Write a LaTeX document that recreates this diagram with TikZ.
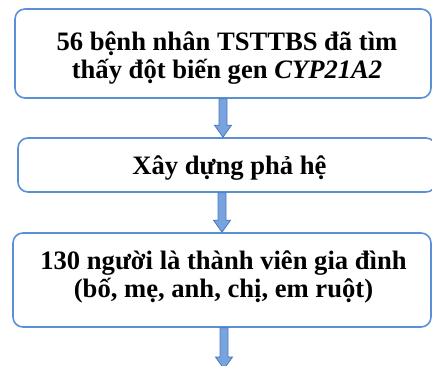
\documentclass[tikz,border=0pt]{standalone}
\usepackage{fontspec}
\setmainfont{Liberation Serif}
\usetikzlibrary{calc}

\definecolor{boxblue}{RGB}{91,143,214}
\definecolor{arrfill}{RGB}{120,163,222}
\definecolor{arredge}{RGB}{72,122,190}

\tikzset{
  stepbox/.style={draw=boxblue, line width=1.6pt, rounded corners=10pt, inner sep=0pt},
  steptext/.style={align=center, inner sep=0pt, font=\fontsize{26.6}{28}\selectfont\bfseries},
  blockarr/.style={fill=arrfill, draw=arredge, line width=0.8pt, line join=miter}
}

% block arrow: x from the first point, tip at the second
\newcommand{\flowarrow}[2]{%
  \draw[blockarr] let \p1=(#1), \p2=(#2) in
    (\x1-4pt,\y1) -- (\x1-4pt,\y2+12pt) -- (\x1-8.5pt,\y2+12pt) -- (\x1,\y2)
    -- (\x1+8.5pt,\y2+12pt) -- (\x1+4pt,\y2+12pt) -- (\x1+4pt,\y1) -- cycle;}

\begin{document}
\begin{tikzpicture}
    \useasboundingbox (0,0) rectangle (432pt,-366pt);

    \node[stepbox, minimum width=416pt, minimum height=89pt] (patients) at (223pt,-53.5pt) {};
    \node[stepbox, minimum width=418pt, minimum height=54pt] (pedigree) at (227pt,-165pt) {};
    \node[stepbox, minimum width=418pt, minimum height=94pt] (family) at (222pt,-280pt) {};
    \coordinate (next) at (224pt,-369pt);

    \node[steptext] (patientstext) at ([xshift=4pt, yshift=-4.5pt]patients.center)
      {56 bệnh nhân TSTTBS đã tìm\\thấy đột biến gen \textit{CYP21A2}};
    \node[steptext] (pedigreetext) at ([xshift=2.5pt, yshift=-3pt]pedigree.center)
      {Xây dựng phả hệ};
    \node[steptext] (familytext) at ([xshift=1.5pt, yshift=3pt]family.center)
      {130 người là thành viên gia đình\\(bố, mẹ, anh, chị, em ruột)};

    \flowarrow{patients.south}{pedigree.north -| patients.south}
    \flowarrow{pedigree.south -| family.north}{family.north}
    \flowarrow{next |- family.south}{next}
\end{tikzpicture}
\end{document}
